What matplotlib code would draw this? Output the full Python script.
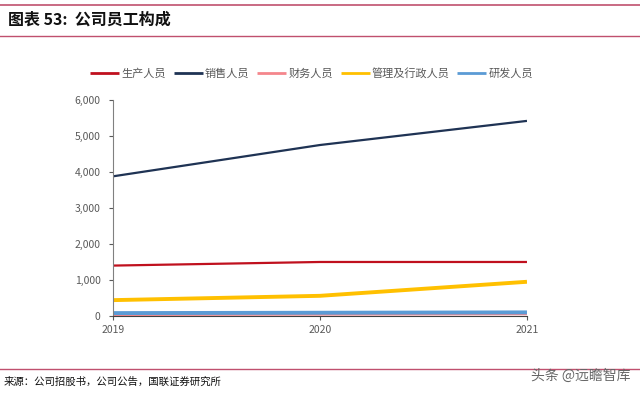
import matplotlib.pyplot as plt

plt.rcParams['font.family'] = ['Noto Sans CJK SC', 'DejaVu Sans']

# 数据
years = [2019, 2020, 2021]
production = [1400, 1500, 1500]
sales = [3880, 4750, 5420]
finance = [30, 40, 50]
admin = [440, 560, 950]
rnd = [80, 90, 100]

series = [
    ('生产人员', production, '#C0101E', 1.6),
    ('销售人员', sales, '#1F3354', 1.6),
    ('财务人员', finance, '#F4868C', 1.6),
    ('管理及行政人员', admin, '#FFC000', 2.8),
    ('研发人员', rnd, '#5B9BD5', 2.8),
]

fig = plt.figure(figsize=(6.4, 3.93), dpi=100)
ax = fig.add_axes([0.1766, 0.196, 0.6468, 0.5495])

for name, vals, color, lw in series:
    ax.plot(years, vals, color=color, lw=lw, label=name, solid_capstyle='butt')

ax.set_xlim(2019, 2021)
ax.set_ylim(0, 6000)
ax.set_xticks(years)
ax.set_xticklabels([str(y) for y in years])
ax.set_yticks(range(0, 6001, 1000))
ax.set_yticklabels([f'{v:,}' for v in range(0, 6001, 1000)])
ax.tick_params(axis='both', labelsize=7.5, colors='#595959', length=3, width=0.8)
ax.tick_params(axis='y', pad=6)
for s in ['top', 'right']:
    ax.spines[s].set_visible(False)
ax.spines['left'].set_color('#808080')
ax.spines['bottom'].set_color('#404040')

leg = ax.legend(loc='center', bbox_to_anchor=(0.48, 1.125), ncol=5, frameon=False,
                fontsize=8, handlelength=2.6, handletextpad=0.2, columnspacing=0.7)
for t in leg.get_texts():
    t.set_color('#595959')
for h in leg.get_lines():
    h.set_linewidth(2.0)

# 标题栏与底部说明
fig.add_artist(plt.Line2D([0, 1], [1 - 5 / 393] * 2, color='#C0506E', lw=1.2))
fig.add_artist(plt.Line2D([0, 1], [1 - 36 / 393] * 2, color='#C0506E', lw=1.0))
fig.text(0.012, 1 - 20 / 393, '图表 53:  公司员工构成', fontsize=11.5, fontweight='bold',
         va='center', ha='left', color='#111111')
fig.add_artist(plt.Line2D([0, 1], [1 - 369 / 393] * 2, color='#C0506E', lw=1.0))
fig.text(0.005, 1 - 382 / 393, '来源：公司招股书，公司公告，国联证券研究所', fontsize=7.5,
         va='center', ha='left', color='#111111')
fig.text(0.985, 1 - 376 / 393, '头条 @远瞻智库', fontsize=10, va='center', ha='right',
         color='#666666')

fig.savefig('out.png', dpi=100)
